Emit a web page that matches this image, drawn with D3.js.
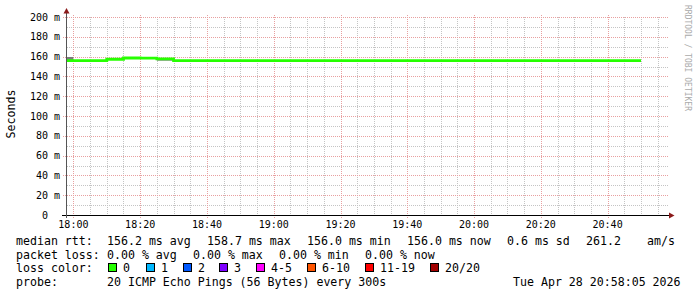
<!DOCTYPE html>
<html>
<head>
<meta charset="utf-8">
<script src="https://cdn.jsdelivr.net/npm/d3@7"></script>
<style>
  html, body { margin: 0; padding: 0; background: #ffffff; }
  svg { display: block; }
  text { font-family: "DejaVu Sans Mono", monospace; white-space: pre; }
</style>
</head>
<body>
<svg id="chart" width="697" height="297"></svg>
<script>
// ---------- data ----------
const viewStart = "17:58:05";
const viewEnd = "20:58:05";
const seriesStart = "17:55";           // first 5-minute interval
const stepMinutes = 5;
// median RTT (ms) per 5-minute interval, 17:55 ... 20:45
const medianRtt = [
  156.0, 156.0, 156.0, 157.3, 158.6, 158.5, 157.7, 156.0,
  156.0, 156.0, 156.0, 156.0, 156.0, 156.0, 156.0, 156.0,
  156.0, 156.0, 156.0, 156.0, 156.0, 156.0, 156.0, 156.0,
  156.0, 156.0, 156.0, 156.0, 156.0, 156.0, 156.0, 156.0,
  156.0, 156.0, 156.0
];
// visible smoke (ping spread) bands
const smokeTimes = ["17:55", "18:25"];
const smokeLow = [156.0, 155.9];
const smokeHigh = [159.6, 157.8];

const yTicksMajor = [0, 20, 40, 60, 80, 100, 120, 140, 160, 180, 200];
const yTicksMinor = [10, 30, 50, 70, 90, 110, 130, 150, 170, 190];

const legendRtt = [
  ["median rtt:", 16], ["156.2 ms avg", 107], ["158.7 ms max", 207],
  ["156.0 ms min", 307], ["156.0 ms now", 407], ["0.6 ms sd", 507],
  ["261.2", 586], ["am/s", 647]
];
const legendLoss = [
  ["packet loss:", 16], ["0.00 % avg", 107], ["0.00 % max", 193],
  ["0.00 % min", 279], ["0.00 % now", 365]
];
const lossLabels = ["0", "1", "2", "3", "4-5", "6-10", "11-19", "20/20"];
const lossColors = ["#26ff00", "#00b8ff", "#0059ff", "#7e00ff", "#ff00ff", "#ff5500", "#ff0000", "#a10000"];
const lossSwatchX = [108, 146, 183, 219, 256, 307, 365, 430];
const probeText = "20 ICMP Echo Pings (56 Bytes) every 300s";
const dateText = "Tue Apr 28 20:58:05 2026";

// ---------- helpers ----------
function at(hm) {
  const p = hm.split(":").map(Number);
  return new Date(2026, 3, 28, p[0], p[1], p[2] || 0);
}
const t0 = at(seriesStart);
const times = medianRtt.map((v, i) => new Date(t0.getTime() + i * stepMinutes * 60000));

const svg = d3.select("#chart");
svg.append("rect").attr("width", 697).attr("height", 297).attr("fill", "#ffffff");

const x = d3.scaleTime().domain([at(viewStart), at(viewEnd)]).range([67, 668]);
const y = d3.scaleLinear().domain([0, 200]).range([215, 17]);

const px = v => Math.round(v) + 0.5;

// ---------- grid ----------
const grid = svg.append("g");
const minorX = d3.timeMinute.every(5).range(at(viewStart), at(viewEnd)).filter(d => d.getMinutes() % 20 !== 0);
const majorX = d3.timeMinute.every(20).range(at(viewStart), at(viewEnd));

grid.selectAll(".hmin").data(yTicksMinor).join("line")
  .attr("x1", 67).attr("x2", 668)
  .attr("y1", d => px(y(d))).attr("y2", d => px(y(d)))
  .attr("stroke", "#c4c4c4").attr("stroke-dasharray", "1,1");
grid.selectAll(".vmin").data(minorX).join("line")
  .attr("x1", d => px(x(d))).attr("x2", d => px(x(d)))
  .attr("y1", 17).attr("y2", 215)
  .attr("stroke", "#c4c4c4").attr("stroke-dasharray", "1,1");
grid.selectAll(".hmaj").data(yTicksMajor.filter(d => d > 0)).join("line")
  .attr("x1", 63).attr("x2", 668)
  .attr("y1", d => px(y(d))).attr("y2", d => px(y(d)))
  .attr("stroke", "#e8a0a0").attr("stroke-dasharray", "1,1");
grid.selectAll(".vmaj").data(majorX).join("line")
  .attr("x1", d => px(x(d))).attr("x2", d => px(x(d)))
  .attr("y1", 15).attr("y2", 218)
  .attr("stroke", "#e8a0a0").attr("stroke-dasharray", "1,1");

// ---------- data marks ----------
svg.append("clipPath").attr("id", "plotclip")
  .append("rect").attr("x", 67).attr("y", 10).attr("width", 601).attr("height", 206);

const marks = svg.append("g").attr("clip-path", "url(#plotclip)");
const stepMs = stepMinutes * 60000;
marks.selectAll(".smoke").data(smokeTimes).join("rect")
  .attr("x", d => x(at(d)))
  .attr("width", d => x(new Date(at(d).getTime() + stepMs)) - x(at(d)))
  .attr("y", (d, i) => y(smokeHigh[i]))
  .attr("height", (d, i) => y(smokeLow[i]) - y(smokeHigh[i]))
  .attr("fill", "#7a7a7a");

const pts = medianRtt.map((v, i) => [times[i], v]);
pts.push([new Date(times[times.length - 1].getTime() + stepMs), medianRtt[medianRtt.length - 1]]);
const line = d3.line().x(d => x(d[0])).y(d => y(d[1])).curve(d3.curveStepAfter);
marks.append("path").datum(pts).attr("d", line)
  .attr("fill", "none").attr("stroke", lossColors[0]).attr("stroke-width", 2.8);

// ---------- axes ----------
svg.append("line").attr("x1", 62).attr("x2", 670).attr("y1", 215.5).attr("y2", 215.5)
  .attr("stroke", "#000000").attr("stroke-width", 1);
svg.append("line").attr("x1", 66.5).attr("x2", 66.5).attr("y1", 218).attr("y2", 12)
  .attr("stroke", "#555555").attr("stroke-width", 1);
svg.append("path").attr("d", "M66.5,8 L63.5,13.5 L69.5,13.5 Z").attr("fill", "#8b1a1a");
svg.append("path").attr("d", "M674.5,215.5 L669,212.5 L669,218.5 Z").attr("fill", "#8b1a1a");

// y tick labels
svg.append("g").selectAll("text").data(yTicksMajor).join("text")
  .attr("x", 60).attr("y", d => y(d) + 3.6)
  .attr("text-anchor", "end").attr("font-size", 10).attr("fill", "#000")
  .text(d => d === 0 ? "0  " : d + " m");

// x tick labels
svg.append("g").selectAll("text").data(majorX).join("text")
  .attr("x", d => x(d)).attr("y", 228)
  .attr("text-anchor", "middle").attr("font-size", 10).attr("fill", "#000")
  .text(d => d3.timeFormat("%H:%M")(d));

// y axis title
svg.append("text").attr("transform", "translate(15,114) rotate(-90)")
  .attr("text-anchor", "middle").attr("font-size", 11.6).attr("fill", "#000").text("Seconds");

// watermark
svg.append("text").attr("transform", "translate(684.5,5) rotate(90)")
  .attr("text-anchor", "start").attr("font-size", 8).attr("fill", "#aaaaaa")
  .text("RRDTOOL / TOBI OETIKER");

// ---------- legend ----------
const leg = svg.append("g").attr("font-size", 11.6).attr("fill", "#000");
leg.selectAll(".r1").data(legendRtt).join("text")
  .attr("x", d => d[1]).attr("y", 245).text(d => d[0]);
leg.selectAll(".r2").data(legendLoss).join("text")
  .attr("x", d => d[1]).attr("y", 258.7).text(d => d[0]);
leg.append("text").attr("x", 16).attr("y", 272.4).text("loss color:");
leg.selectAll(".sw").data(lossLabels).join("rect")
  .attr("x", (d, i) => lossSwatchX[i] + 0.5).attr("y", 263.5)
  .attr("width", 8).attr("height", 8)
  .attr("fill", (d, i) => lossColors[i]).attr("stroke", "#000").attr("stroke-width", 1);
leg.selectAll(".sl").data(lossLabels).join("text")
  .attr("x", (d, i) => lossSwatchX[i] + 15).attr("y", 272.4).text(d => d);
leg.append("text").attr("x", 16).attr("y", 286).text("probe:");
leg.append("text").attr("x", 107).attr("y", 286).text(probeText);
leg.append("text").attr("x", 513).attr("y", 286).text(dateText);
</script>
</body>
</html>
